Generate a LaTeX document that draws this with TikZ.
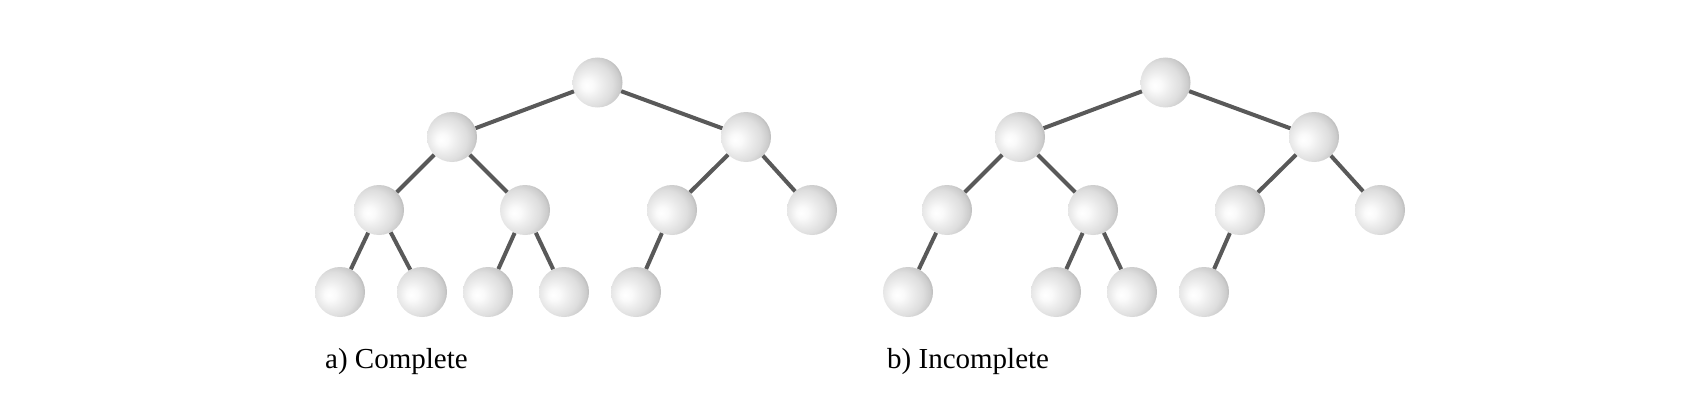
\documentclass[tikz,border=0pt]{standalone}
\usepackage{fontspec}
\setmainfont{Liberation Serif}
\pgfdeclareradialshading{myball}{\pgfpoint{-11bp}{-3bp}}{%
  color(0bp)=(white);
  color(6bp)=(white!98!black);
  color(13bp)=(white!93!black);
  color(22bp)=(white!87!black);
  color(28bp)=(white!80!black);
  color(33bp)=(white!67!black);
  color(37bp)=(white!56!black);
  color(60bp)=(white!56!black)}
\tikzset{
  ball/.style={circle, minimum size=50pt, inner sep=0pt, shading=myball},
  edge/.style={line width=4pt, draw=black!65}
}
\begin{document}
\begin{tikzpicture}[x=1pt,y=-1pt]
\useasboundingbox (0,0) rectangle (1692,420);
\foreach \o/\t in {0/a,568/b}{
  \begin{scope}[xshift=\o pt]
    \node[ball] (\t r) at (597.5,82.5) {};
    \node[ball] (\t l) at (452,137) {};
    \node[ball] (\t R) at (746,137) {};
    \node[ball] (\t ll) at (379,210) {};
    \node[ball] (\t lr) at (525,210) {};
    \node[ball] (\t Rl) at (672,210) {};
    \node[ball] (\t RR) at (812,210) {};
    \node[ball] (\t lll) at (340,292) {};
    \node[ball] (\t lrl) at (488,292) {};
    \node[ball] (\t lrr) at (564,292) {};
    \node[ball] (\t Rll) at (636,292) {};
  \end{scope}
  \draw[edge] (\t r) -- (\t l);
  \draw[edge] (\t r) -- (\t R);
  \draw[edge] (\t l) -- (\t ll);
  \draw[edge] (\t l) -- (\t lr);
  \draw[edge] (\t R) -- (\t Rl);
  \draw[edge] (\t R) -- (\t RR);
  \draw[edge] (\t ll) -- (\t lll);
  \draw[edge] (\t lr) -- (\t lrl);
  \draw[edge] (\t lr) -- (\t lrr);
  \draw[edge] (\t Rl) -- (\t Rll);
}
\node[ball] (allr) at (422,292) {};
\draw[edge] (all) -- (allr);
\node[anchor=base west, inner sep=0pt, font=\fontsize{29}{34}\selectfont] (la) at (325,368) {a) Complete};
\node[anchor=base west, inner sep=0pt, font=\fontsize{29}{34}\selectfont] (lb) at (887,368) {b) Incomplete};
\end{tikzpicture}
\end{document}
